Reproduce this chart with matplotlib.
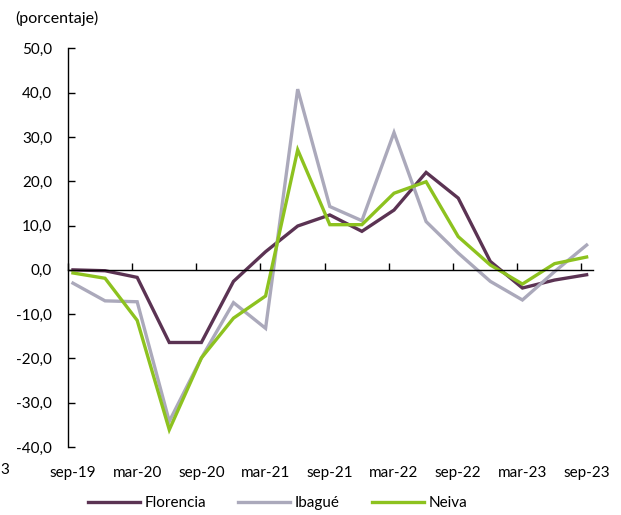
import matplotlib
matplotlib.use("Agg")
import matplotlib.pyplot as plt
import numpy as np

plt.rcParams['font.family'] = ['Lato', 'DejaVu Sans']

quarters = ["sep-19", "dic-19", "mar-20", "jun-20", "sep-20", "dic-20", "mar-21", "jun-21",
            "sep-21", "dic-21", "mar-22", "jun-22", "sep-22", "dic-22", "mar-23", "jun-23", "sep-23"]
tick_labels = ["sep-19", "mar-20", "sep-20", "mar-21", "sep-21", "mar-22", "sep-22", "mar-23", "sep-23"]

florencia = [0.0, -0.2, -1.7, -16.4, -16.4, -2.6, 4.1, 9.9, 12.4, 8.7, 13.5, 22.0, 16.2, 1.9, -4.1, -2.3, -1.1]
ibague = [-3.0, -7.0, -7.2, -34.2, -19.9, -7.4, -13.2, 40.8, 14.3, 11.1, 31.0, 10.9, 3.8, -2.6, -6.8, -0.4, 5.6]
neiva = [-0.7, -1.9, -11.4, -36.1, -19.9, -10.9, -5.9, 27.1, 10.2, 10.2, 17.3, 19.9, 7.5, 1.1, -3.2, 1.4, 2.9]

col_flo = "#5b3353"
col_iba = "#aba9bb"
col_nei = "#8dc21f"

fig = plt.figure(figsize=(6.21, 5.15), dpi=100)
ax = fig.add_axes([0.1087, 0.132, 0.955 - 0.1087, 0.906 - 0.132])

x = np.arange(len(quarters))
ax.plot(x, florencia, color=col_flo, lw=2.4, label="Florencia", solid_joinstyle="miter")
ax.plot(x, ibague, color=col_iba, lw=2.4, label="Ibagué", solid_joinstyle="miter")
ax.plot(x, neiva, color=col_nei, lw=2.4, label="Neiva", solid_joinstyle="miter")

ax.set_ylim(-40, 50)
ax.set_xlim(-0.17, 16.2)
ax.set_yticks(np.arange(-40, 51, 10))
ax.set_yticklabels([f"{v:.1f}".replace(".", ",") for v in np.arange(-40, 51, 10)])
ax.tick_params(axis="y", direction="in", length=5, width=1, pad=11, labelsize=11, colors="black")

for s in ["top", "right"]:
    ax.spines[s].set_visible(False)
ax.spines["left"].set_linewidth(1)
ax.spines["bottom"].set_position(("data", 0))
ax.spines["bottom"].set_linewidth(1)

major_pos = np.arange(0, len(quarters), 2) - 0.16
ax.set_xticks(major_pos)
ax.set_xticklabels([])
ax.tick_params(axis="x", direction="in", length=5, width=1)

sec = ax.secondary_xaxis(0.0)
sec.set_xticks(np.arange(0, len(quarters), 2))
sec.set_xticklabels(tick_labels)
sec.tick_params(length=0, pad=14, labelsize=11)
sec.spines["bottom"].set_visible(False)

fig.text(15 / 621, 1 - 18 / 515, "(porcentaje)", fontsize=11.5, ha="left", va="center")
fig.text(5 / 621, 1 - 470 / 515, "3", fontsize=11, ha="center", va="center")

leg = fig.legend(loc="center", bbox_to_anchor=(0.447, 1 - 503 / 515), ncol=3, frameon=False,
                 fontsize=11, handlelength=3.4, handletextpad=0.3, columnspacing=2.1)

fig.savefig("out.png", dpi=100)
